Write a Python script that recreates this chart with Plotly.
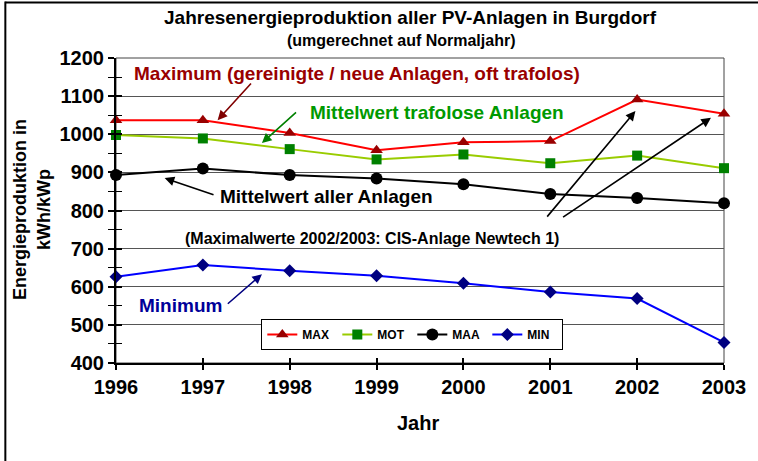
import plotly.graph_objects as go

years = [1996, 1997, 1998, 1999, 2000, 2001, 2002, 2003]
max_vals = [1037, 1037, 1003, 958, 979, 982, 1091, 1054]
mot_vals = [998, 989, 961, 934, 947, 924, 944, 911]
maa_vals = [893, 910, 893, 884, 869, 843, 833, 819]
min_vals = [626, 657, 642, 629, 609, 586, 569, 454]

FONT = "Liberation Sans"

fig = go.Figure()

fig.add_trace(go.Scatter(
    x=years, y=max_vals, name="MAX", mode="lines+markers",
    line=dict(color="#FF0000", width=2),
    marker=dict(symbol="triangle-up", size=11, color="#990000"),
    cliponaxis=False,
))
fig.add_trace(go.Scatter(
    x=years, y=mot_vals, name="MOT", mode="lines+markers",
    line=dict(color="#99CC00", width=2),
    marker=dict(symbol="square", size=10, color="#008000"),
    cliponaxis=False,
))
fig.add_trace(go.Scatter(
    x=years, y=maa_vals, name="MAA", mode="lines+markers",
    line=dict(color="#000000", width=2),
    marker=dict(symbol="circle", size=12, color="#000000"),
    cliponaxis=False,
))
fig.add_trace(go.Scatter(
    x=years, y=min_vals, name="MIN", mode="lines+markers",
    line=dict(color="#0000FF", width=2),
    marker=dict(symbol="diamond", size=10, color="#000080"),
    cliponaxis=False,
))

# arrows: (head x, head y, tail x, tail y, colour)
arrows = [
    (1997.17, 1037, 1997.57, 1137, "#800000"),
    (1997.68, 977, 1998.09, 1061, "#008000"),
    (1996.56, 885, 1997.14, 840, "#000000"),
    (2001.98, 1061, 2000.95, 780, "#000000"),
    (2002.85, 1043, 2001.13, 780, "#000000"),
    (1997.68, 633, 1997.27, 552, "#000080"),
]
for hx, hy, tx, ty, col in arrows:
    fig.add_annotation(
        x=hx, y=hy, ax=tx, ay=ty, xref="x", yref="y", axref="x", ayref="y",
        text="", showarrow=True, arrowhead=2, arrowsize=1.2, arrowwidth=1.6,
        arrowcolor=col,
    )

labels = [
    ("Maximum (gereinigte / neue Anlagen, oft trafolos)", 1996.18, 1160, "#990000", 19),
    ("Mittelwert trafolose Anlagen", 1998.21, 1058, "#009900", 19),
    ("Mittelwert aller Anlagen", 1997.17, 836, "#000000", 19),
    ("(Maximalwerte 2002/2003: CIS-Anlage Newtech 1)", 1996.77, 727, "#000000", 16),
    ("Minimum", 1996.24, 550, "#000099", 19),
]
for txt, x, y, col, size in labels:
    fig.add_annotation(
        x=x, y=y, xref="x", yref="y", text=txt, showarrow=False,
        xanchor="left", yanchor="middle",
        font=dict(family=FONT, size=size, color=col, weight="bold"),
    )

# titles
fig.add_annotation(
    x=0.485, y=1.134, xref="paper", yref="paper", showarrow=False,
    xanchor="center", yanchor="middle",
    text="Jahresenergieproduktion aller PV-Anlagen in Burgdorf",
    font=dict(family=FONT, size=19, color="#000000", weight="bold"),
)
fig.add_annotation(
    x=0.469, y=1.059, xref="paper", yref="paper", showarrow=False,
    xanchor="center", yanchor="middle",
    text="(umgerechnet auf Normaljahr)",
    font=dict(family=FONT, size=16, color="#000000", weight="bold"),
)
fig.add_annotation(
    x=-0.138, y=0.502, xref="paper", yref="paper", showarrow=False,
    xanchor="center", yanchor="middle",
    text="Energieproduktion in<br>kWh/kWp", textangle=-90,
    font=dict(family=FONT, size=18, color="#000000", weight="bold"),
)
fig.add_annotation(
    x=0.497, y=-0.197, xref="paper", yref="paper", showarrow=False,
    xanchor="center", yanchor="middle",
    text="Jahr",
    font=dict(family=FONT, size=20, color="#000000", weight="bold"),
)

tickfont = dict(family=FONT, size=20, color="#000000", weight="bold")

fig.update_layout(
    width=758, height=461,
    margin=dict(l=116, r=32, t=58, b=98),
    paper_bgcolor="white", plot_bgcolor="white",
    showlegend=True,
    legend=dict(
        orientation="h", x=0.239, y=0.144, xanchor="left", yanchor="top",
        bordercolor="#000000", borderwidth=1, bgcolor="white",
        font=dict(family=FONT, size=12, color="#000000", weight="bold"),
        itemwidth=30, entrywidth=30,
    ),
    xaxis=dict(
        range=[1996, 2003], dtick=1, tickfont=tickfont,
        showgrid=False, zeroline=False,
        showline=True, linecolor="#000000", linewidth=2,
        ticks="outside", ticklen=5, tickwidth=1.5, tickcolor="#000000",
    ),
    yaxis=dict(
        range=[400, 1200], dtick=100, tickfont=tickfont,
        showgrid=True, gridcolor="#555555", gridwidth=1, zeroline=False,
        showline=True, linecolor="#000000", linewidth=2,
        ticks="outside", ticklen=6, tickwidth=1.5, tickcolor="#000000",
        minor=dict(dtick=50, ticks="outside", ticklen=6, tickwidth=1.2,
                   tickcolor="#000000", showgrid=False),
    ),
    xaxis2=dict(
        overlaying="x", matches="x", anchor="y", side="bottom",
        range=[1996, 2003], dtick=1, showticklabels=False, showgrid=False,
        zeroline=False, ticks="inside", ticklen=5, tickwidth=1.5,
        tickcolor="#000000",
    ),
    yaxis2=dict(
        overlaying="y", matches="y", anchor="x", side="left",
        range=[400, 1200], dtick=100, showticklabels=False, showgrid=False,
        zeroline=False, ticks="inside", ticklen=6, tickwidth=1.5,
        tickcolor="#000000",
        minor=dict(dtick=50, ticks="inside", ticklen=6, tickwidth=1.2,
                   tickcolor="#000000", showgrid=False),
    ),
    shapes=[
        dict(type="rect", xref="paper", yref="paper", x0=0, y0=0, x1=1, y1=1,
             line=dict(color="#444444", width=1), layer="below"),
        dict(type="line", xref="paper", yref="paper", x0=-0.182, x1=-0.182,
             y0=-0.33, y1=1.185, line=dict(color="#000000", width=2)),
        dict(type="line", xref="paper", yref="paper", x0=-0.182, x1=1.06,
             y0=1.182, y1=1.182, line=dict(color="#000000", width=2)),
    ],
)

fig.add_trace(go.Scatter(x=[], y=[], xaxis="x2", yaxis="y2", showlegend=False))

# page has a default 8px body margin; remove it so the figure sits at 0,0
fig.write_html(
    "out.html",
    config={"displayModeBar": False},
    post_script="document.body.style.margin='0';",
)
